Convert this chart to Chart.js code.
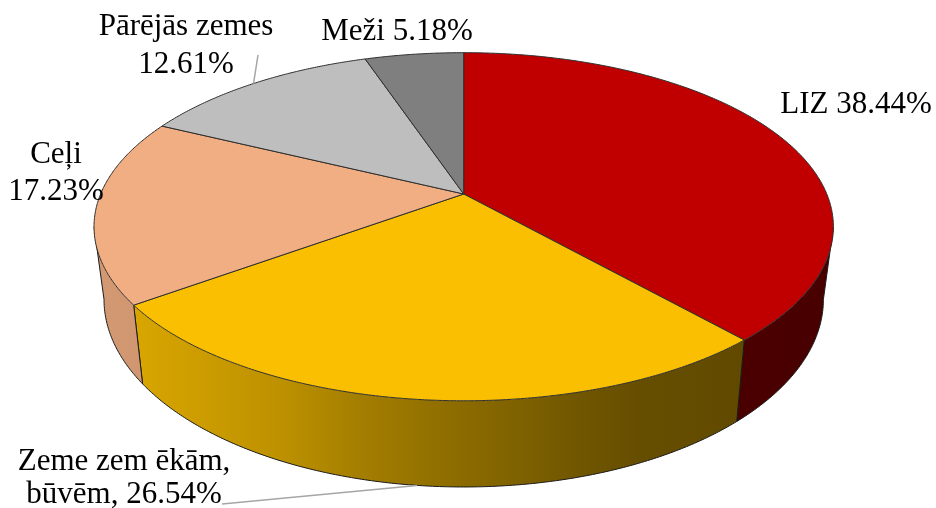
<!DOCTYPE html>
<html>
<head>
<meta charset="utf-8">
<script src="https://cdn.jsdelivr.net/npm/chart.js@4.4.1/dist/chart.umd.min.js"></script>
<style>
  html, body { margin: 0; padding: 0; background: #ffffff; }
  #wrap { width: 936px; height: 508px; }
</style>
</head>
<body>
<div id="wrap"><canvas id="pieChart" width="936" height="508"></canvas></div>
<script>
// Zemes izmantošanas struktūra (%)
const categories = ['LIZ', 'Zeme zem ēkām,\nbūvēm', 'Ceļi', 'Pārējās zemes', 'Meži'];
const shares = [38.44, 26.54, 17.23, 12.61, 5.18];
const labelSeparators = [' ', ', ', '\n', '\n', ' '];
const sliceColors = ['#C00000', '#F9BF00', '#F0AE82', '#BEBEBE', '#7F7F7F'];

// 3D skats (perspektīva)
const CX = 463.7, CY = 194;
const RX = 363.1, RY = 167.9;
const PERSP = 0.188;
const DEPTH = 70;
const BOTTOM_SHRINK = 0.973; // apakšējā mala tālāk no skatītāja

// etiķešu novietojums: centra x, pirmās rindas bāzes līnija, rindstarpa
const labelPos = [
  { x: 856, y: 113, lh: 34 },
  { x: 124, y: 470, lh: 33 },
  { x: 56, y: 163, lh: 37 },
  { x: 186, y: 35, lh: 37.5 },
  { x: 397, y: 40, lh: 34 }
];
// līnijas no etiķetes līdz daļai: [x, y, uz apakšējo malu?]
const leaders = { 1: [222, 504, true], 3: [258, 55, false] };

// sienas ēnojums pa x
const shadeStops = [[94, 0.88], [133, 0.87], [280, 0.76], [360, 0.66], [464, 0.56], [580, 0.45], [640, 0.41], [744, 0.39], [834, 0.37]];

function hexRgb(h) {
  const n = parseInt(h.slice(1), 16);
  return [(n >> 16) & 255, (n >> 8) & 255, n & 255];
}

function proj(t, drop) {
  const w = 1 - PERSP * Math.sin(t);
  const k = drop ? BOTTOM_SHRINK : 1;
  return [CX + k * RX * Math.cos(t) / w, CY + (RY * Math.sin(t) + drop) / w];
}

function arcPoints(a, b, drop) {
  const pts = [];
  const n = Math.max(2, Math.ceil((b - a) / 0.008));
  for (let k = 0; k <= n; k++) pts.push(proj(a + (b - a) * k / n, drop));
  return pts;
}

const pie3d = {
  id: 'pie3d',
  afterDatasetsDraw(chart) {
    const ctx = chart.ctx;
    const arcs = chart.getDatasetMeta(0).data;
    const visA = Math.asin(PERSP), visB = Math.PI - visA;

    ctx.save();
    ctx.lineJoin = 'round';

    // sienas (tikai redzamā priekšpuse)
    arcs.forEach((el, i) => {
      const s = Math.max(el.startAngle, visA);
      const e = Math.min(el.endAngle, visB);
      if (e <= s) return;
      const top = arcPoints(s, e, 0);
      const bot = arcPoints(s, e, DEPTH);
      const rgb = hexRgb(sliceColors[i]);
      const grad = ctx.createLinearGradient(94, 0, 834, 0);
      shadeStops.forEach(([x, f]) => {
        const c = rgb.map(v => Math.round(v * f));
        grad.addColorStop((x - 94) / 740, `rgb(${c[0]},${c[1]},${c[2]})`);
      });
      ctx.beginPath();
      top.forEach((p, k) => k ? ctx.lineTo(p[0], p[1]) : ctx.moveTo(p[0], p[1]));
      for (let k = bot.length - 1; k >= 0; k--) ctx.lineTo(bot[k][0], bot[k][1]);
      ctx.closePath();
      ctx.fillStyle = grad;
      ctx.fill();

      ctx.strokeStyle = '#1a1a1a';
      ctx.lineWidth = 1;
      ctx.beginPath();
      bot.forEach((p, k) => k ? ctx.lineTo(p[0], p[1]) : ctx.moveTo(p[0], p[1]));
      ctx.stroke();
      [[top[0], bot[0]], [top[top.length - 1], bot[bot.length - 1]]].forEach(([p, q]) => {
        ctx.beginPath();
        ctx.moveTo(p[0], p[1]);
        ctx.lineTo(q[0], q[1]);
        ctx.stroke();
      });
    });

    // augšējās virsmas
    arcs.forEach((el, i) => {
      const pts = arcPoints(el.startAngle, el.endAngle, 0);
      ctx.beginPath();
      ctx.moveTo(CX, CY);
      pts.forEach(p => ctx.lineTo(p[0], p[1]));
      ctx.closePath();
      ctx.fillStyle = sliceColors[i];
      ctx.fill();
      ctx.strokeStyle = '#2e2e2e';
      ctx.lineWidth = 1;
      ctx.stroke();
    });

    // etiķetes
    ctx.fillStyle = '#000000';
    ctx.font = '31px "Liberation Serif", "Times New Roman", serif';
    ctx.textAlign = 'center';
    ctx.textBaseline = 'alphabetic';
    arcs.forEach((el, i) => {
      const text = categories[i] + labelSeparators[i] + shares[i].toFixed(2) + '%';
      const pos = labelPos[i];
      text.split('\n').forEach((line, k) => ctx.fillText(line, pos.x, pos.y + k * pos.lh));

      const ld = leaders[i];
      if (ld) {
        const mid = (el.startAngle + el.endAngle) / 2;
        const p = proj(mid, ld[2] ? DEPTH : 0);
        ctx.strokeStyle = '#A6A6A6';
        ctx.lineWidth = 1.5;
        ctx.beginPath();
        ctx.moveTo(ld[0], ld[1]);
        ctx.lineTo(p[0], p[1]);
        ctx.stroke();
      }
    });
    ctx.restore();
  }
};

new Chart(document.getElementById('pieChart'), {
  type: 'pie',
  data: {
    labels: categories,
    datasets: [{
      data: shares,
      backgroundColor: 'rgba(0,0,0,0)',
      borderWidth: 0
    }]
  },
  options: {
    responsive: false,
    animation: false,
    plugins: {
      legend: { display: false },
      tooltip: { enabled: false }
    }
  },
  plugins: [pie3d]
});
</script>
</body>
</html>
